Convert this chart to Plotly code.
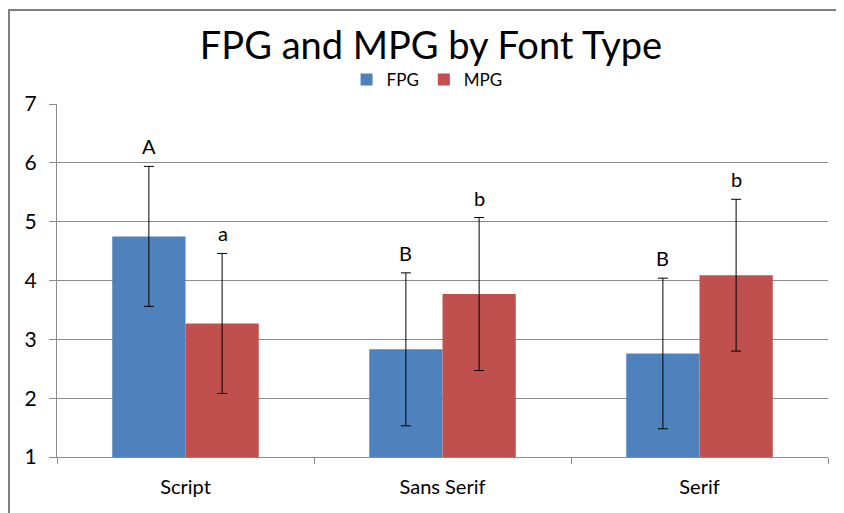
import plotly.graph_objects as go

categories = ["Script", "Sans Serif", "Serif"]
fpg_values = [4.75, 2.83, 2.76]
mpg_values = [3.27, 3.77, 4.09]
fpg_err = [1.19, 1.30, 1.28]
mpg_err = [1.19, 1.30, 1.29]
fpg_letters = ["A", "B", "B"]
mpg_letters = ["a", "b", "b"]
y_ticks = [1, 2, 3, 4, 5, 6, 7]

FONT = "Lato, 'Open Sans', sans-serif"
BLUE = "#4F81BD"
RED = "#C0504D"
GRID = "#8C8C8C"

fig = go.Figure()
fig.add_trace(go.Bar(
    name="FPG", x=categories, y=[v - 1 for v in fpg_values], base=1,
    marker=dict(color=BLUE, line=dict(width=0)),
    error_y=dict(type="data", array=fpg_err, color="black", thickness=1, width=5),
    offsetgroup="f",
))
fig.add_trace(go.Bar(
    name="MPG", x=categories, y=[v - 1 for v in mpg_values], base=1,
    marker=dict(color=RED, line=dict(width=0)),
    error_y=dict(type="data", array=mpg_err, color="black", thickness=1, width=5),
    offsetgroup="m",
))

annotations = []
for i, c in enumerate(categories):
    annotations.append(dict(x=c, xshift=-37, y=fpg_values[i] + fpg_err[i], yanchor="bottom",
                            yshift=6, text=fpg_letters[i], showarrow=False,
                            font=dict(family=FONT, size=20, color="black")))
    annotations.append(dict(x=c, xshift=37, y=mpg_values[i] + mpg_err[i], yanchor="bottom",
                            yshift=6, text=mpg_letters[i], showarrow=False,
                            font=dict(family=FONT, size=20, color="black")))

fig.update_layout(
    width=844, height=513,
    margin=dict(l=49, r=24, t=96, b=64, autoexpand=False),
    paper_bgcolor="white", plot_bgcolor="white",
    title=dict(text="FPG and MPG by Font Type", x=(431 - 8) / 844, xanchor="center",
               y=1 - 38 / 513, yanchor="middle",
               font=dict(family=FONT, size=38, color="black")),
    legend=dict(orientation="h", x=0.48, xanchor="center", y=1.068, yanchor="middle",
                font=dict(family=FONT, size=17, color="black"),
                itemwidth=30, traceorder="normal", bgcolor="rgba(0,0,0,0)"),
    barmode="group", bargap=0.43, bargroupgap=0,
    showlegend=True,
    annotations=annotations,
    xaxis=dict(type="category", showgrid=False, showline=True, linecolor=GRID, linewidth=1,
               ticks="outside", tickson="boundaries", ticklen=6, tickcolor=GRID,
               ticklabelstandoff=12,
               tickfont=dict(family=FONT, size=20, color="black"), fixedrange=True),
    yaxis=dict(range=[1, 7], tickvals=y_ticks, showgrid=True, gridcolor=GRID, gridwidth=1,
               showline=True, linecolor=GRID, linewidth=1, ticks="outside", ticklen=7,
               tickcolor=GRID, zeroline=False, ticklabelstandoff=8,
               tickfont=dict(family=FONT, size=21, color="black")),
    shapes=[dict(type="rect", xref="paper", yref="paper",
                 x0=-0.0623, x1=1.013, y0=-0.2, y1=1.266,
                 line=dict(color="#7F7F7F", width=2), layer="below")],
)

fig.write_html("out.html")
